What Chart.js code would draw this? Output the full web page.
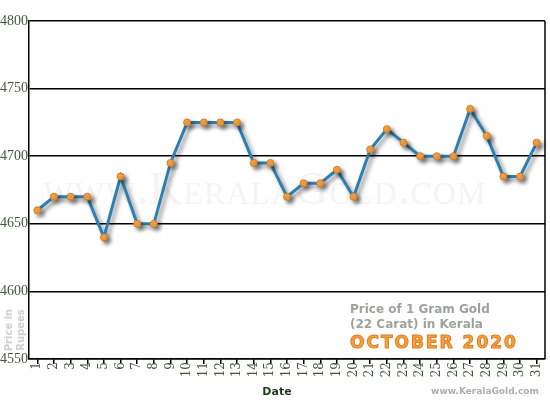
<!DOCTYPE html>
<html lang="en">
<head>
<meta charset="UTF-8">
<title>Kerala Gold Price October 2020</title>
<style>
  html, body { margin: 0; padding: 0; background: #fff; }
  #wrap { width: 550px; height: 400px; position: relative; }
</style>
</head>
<body>
<div id="wrap"><canvas id="chart" width="550" height="400"></canvas></div>
<script src="https://cdn.jsdelivr.net/npm/chart.js"></script>
<script>
// data
const days = ['1','2','3','4','5','6','7','8','9','10','11','12','13','14','15','16',
              '17','18','19','20','21','22','23','24','25','26','27','28','29','30','31'];
const prices = [4660, 4670, 4670, 4670, 4640, 4685, 4650, 4650, 4695, 4725, 4725, 4725, 4725, 4695, 4695, 4670,
                4680, 4680, 4690, 4670, 4705, 4720, 4710, 4700, 4700, 4700, 4735, 4715, 4685, 4685, 4710];
const yMin = 4550;
const yMax = 4800;
const yStep = 50;

const green = '#3b5a36';

// frame, watermark and captions
const decor = {
    id: 'decor',
    beforeDatasetsDraw(chart) {
        const { ctx, chartArea: a } = chart;
        ctx.save();
        ctx.fillStyle = '#f4f4f4';
        ctx.font = '46px "Liberation Serif", serif';
        ctx.fontVariantCaps = 'small-caps';
        ctx.letterSpacing = '1px';
        ctx.textAlign = 'left';
        ctx.textBaseline = 'alphabetic';
        ctx.fillText('www.KeralaGold.com', 43, 204, 492);
        ctx.letterSpacing = '0px';
        ctx.fontVariantCaps = 'normal';
        ctx.strokeStyle = '#000';
        ctx.lineWidth = 1.5;
        ctx.beginPath();
        ctx.moveTo(a.right, a.top);
        ctx.lineTo(a.right, a.bottom);
        ctx.stroke();
        ctx.restore();
    },
    beforeDatasetDraw(chart) {
        const ctx = chart.ctx;
        ctx.save();
        ctx.shadowColor = 'rgba(0,0,0,0.45)';
        ctx.shadowBlur = 4;
        ctx.shadowOffsetX = 3;
        ctx.shadowOffsetY = 3;
    },
    afterDatasetDraw(chart) {
        chart.ctx.restore();
    },
    afterDraw(chart) {
        const ctx = chart.ctx;
        ctx.save();
        // caption
        ctx.textAlign = 'left';
        ctx.textBaseline = 'alphabetic';
        ctx.fillStyle = '#9ba39a';
        ctx.font = 'bold 12px "DejaVu Sans", sans-serif';
        ctx.fillText('Price of 1 Gram Gold', 350, 313);
        ctx.fillText('(22 Carat) in Kerala', 350, 328);
        ctx.font = 'bold 17px "DejaVu Sans", sans-serif';
        ctx.letterSpacing = '2px';
        ctx.fillStyle = '#f6a040';
        ctx.strokeStyle = '#e07d1c';
        ctx.lineWidth = 1;
        ctx.fillText('OCTOBER 2020', 350, 348);
        ctx.strokeText('OCTOBER 2020', 350, 348);
        ctx.letterSpacing = '0px';
        // axis titles
        ctx.fillStyle = '#1f3b1c';
        ctx.font = 'bold 11px "DejaVu Sans", sans-serif';
        ctx.textAlign = 'center';
        ctx.fillText('Date', 277, 395);
        ctx.fillStyle = '#a9b0a9';
        ctx.font = 'bold 9px "DejaVu Sans", sans-serif';
        ctx.fillText('www.KeralaGold.com', 485, 394);
        ctx.translate(0, 330);
        ctx.rotate(-Math.PI / 2);
        ctx.fillStyle = '#cfcfcf';
        ctx.font = 'bold 10px "DejaVu Sans", sans-serif';
        ctx.fillText('Price in', 0, 12);
        ctx.fillText('Rupees', 0, 24);
        ctx.restore();
    }
};

new Chart(document.getElementById('chart'), {
    type: 'line',
    data: {
        labels: days,
        datasets: [{
            data: prices,
            borderColor: '#2b7fb2',
            borderWidth: 3,
            pointRadius: 3.5,
            pointBackgroundColor: '#f8a543',
            pointBorderColor: '#d97a25',
            pointBorderWidth: 1,
            tension: 0,
            fill: false
        }]
    },
    options: {
        responsive: false,
        animation: false,
        events: [],
        layout: { padding: { top: 21, right: 2, left: 0, bottom: 0 } },
        plugins: { legend: { display: false }, tooltip: { enabled: false } },
        scales: {
            x: {
                offset: true,
                afterFit: s => { s.height = 41; },
                grid: { display: true, drawOnChartArea: false, color: '#000', tickLength: 5, lineWidth: 1.5 },
                border: { color: '#000', width: 1.5 },
                ticks: {
                    autoSkip: false,
                    minRotation: 90,
                    maxRotation: 90,
                    padding: -2,
                    color: green,
                    font: { family: '"DejaVu Serif", serif', size: 12 }
                }
            },
            y: {
                min: yMin,
                max: yMax,
                afterFit: s => { s.width = 29; },
                grid: { color: '#000', lineWidth: 1.5, drawTicks: false },
                border: { color: '#000', width: 1.5 },
                ticks: {
                    stepSize: yStep,
                    padding: 1,
                    color: green,
                    callback: v => String(v),
                    font: { family: '"Liberation Serif", serif', size: 14 }
                }
            }
        }
    },
    plugins: [decor]
});
</script>
</body>
</html>
